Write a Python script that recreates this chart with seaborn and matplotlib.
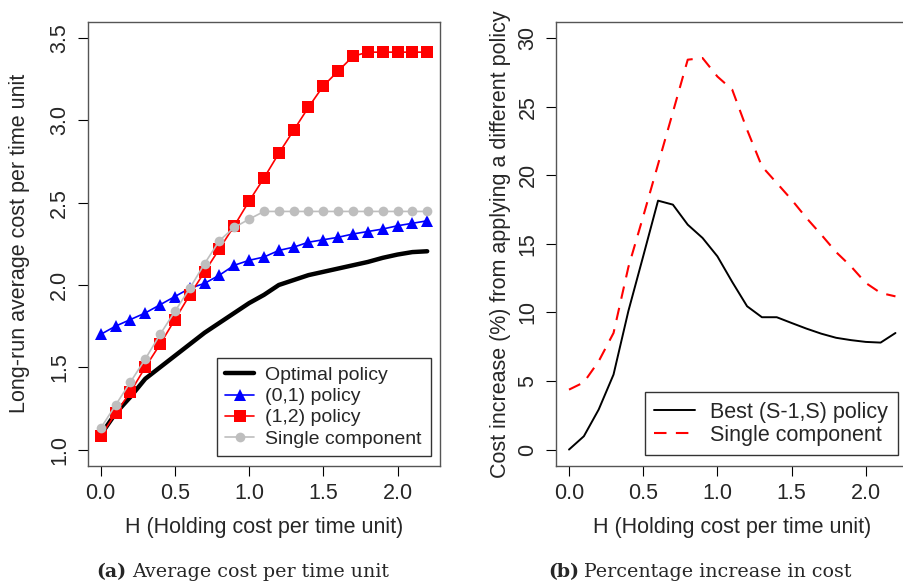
import matplotlib
matplotlib.use("Agg")
from matplotlib import pyplot as plt
import seaborn as sns
import numpy as np

# holding cost grid
H = [0.0, 0.1, 0.2, 0.3, 0.4, 0.5, 0.6, 0.7, 0.8, 0.9, 1.0, 1.1,
     1.2, 1.3, 1.4, 1.5, 1.6, 1.7, 1.8, 1.9, 2.0, 2.1, 2.2]

# (a) average cost per time unit
optimal = [1.09, 1.22, 1.32, 1.43, 1.50, 1.57, 1.64, 1.71, 1.77, 1.83, 1.89, 1.94,
           2.00, 2.03, 2.06, 2.08, 2.10, 2.12, 2.14, 2.165, 2.185, 2.20, 2.205]
policy_01 = [1.70, 1.75, 1.79, 1.83, 1.88, 1.93, 1.98, 2.01, 2.06, 2.12, 2.15, 2.17,
             2.21, 2.23, 2.26, 2.275, 2.29, 2.31, 2.325, 2.34, 2.36, 2.375, 2.39]
policy_12 = [1.08, 1.22, 1.35, 1.50, 1.64, 1.79, 1.94, 2.08, 2.22, 2.36, 2.51, 2.65,
             2.80, 2.94, 3.08, 3.21, 3.30, 3.39, 3.415, 3.415, 3.415, 3.415, 3.415]
single = [1.13, 1.27, 1.41, 1.55, 1.70, 1.84, 1.98, 2.13, 2.27, 2.35, 2.40, 2.447,
          2.447, 2.447, 2.447, 2.447, 2.447, 2.447, 2.447, 2.447, 2.447, 2.447, 2.447]

# (b) percentage increase in cost
best_s1s = [0.0, 0.97, 2.92, 5.47, 10.1, 14.1, 18.15, 17.86, 16.4, 15.43, 14.09, 12.22,
            10.45, 9.65, 9.65, 9.23, 8.82, 8.45, 8.15, 7.98, 7.85, 7.80, 8.50]
single_pct = [4.37, 4.9, 6.44, 8.5, 13.3, 17.0, 20.8, 24.6, 28.43, 28.55, 27.2, 26.24,
              23.32, 20.65, 19.44, 18.22, 16.89, 15.67, 14.4, 13.36, 12.15, 11.42, 11.17]

sns.set_style("white")
plt.rcParams["font.family"] = ["Liberation Sans", "DejaVu Sans"]
fs = 15.5

fig = plt.figure(figsize=(9.04, 5.85), dpi=100)
ax1 = fig.add_axes([0.097, 0.2034, 0.390, 0.7595])
ax2 = fig.add_axes([0.615, 0.2034, 0.390, 0.7595])

sns.lineplot(x=H, y=optimal, ax=ax1, color="black", lw=3.2, label="Optimal policy")
sns.lineplot(x=H, y=policy_01, ax=ax1, color="blue", lw=1.2, marker="^", markersize=9,
             markeredgewidth=0, label="(0,1) policy")
sns.lineplot(x=H, y=policy_12, ax=ax1, color="red", lw=1.2, marker="s", markersize=8,
             markeredgewidth=0, label="(1,2) policy")
sns.lineplot(x=H, y=single, ax=ax1, color="#BEBEBE", lw=1.2, marker="o", markersize=7,
             markeredgewidth=0, label="Single component")

sns.lineplot(x=H, y=best_s1s, ax=ax2, color="black", lw=1.4, label="Best (S-1,S) policy")
sns.lineplot(x=H, y=single_pct, ax=ax2, color="red", lw=1.5, linestyle=(0, (6, 4.5)),
             label="Single component")

ax1.set_xlim(-0.088, 2.288)
ax1.set_ylim(0.9, 3.6)
ax1.set_yticks([1.0, 1.5, 2.0, 2.5, 3.0, 3.5])
ax1.set_ylabel("Long-run average cost per time unit", fontsize=fs, labelpad=14)

ax2.set_xlim(-0.088, 2.288)
ax2.set_ylim(-1.2, 31.2)
ax2.set_yticks([0, 5, 10, 15, 20, 25, 30])
ax2.set_ylabel("Cost increase (%) from applying a different policy", fontsize=fs, labelpad=5)

for ax in (ax1, ax2):
    ax.set_xticks([0.0, 0.5, 1.0, 1.5, 2.0])
    ax.set_xticklabels(["0.0", "0.5", "1.0", "1.5", "2.0"])
    ax.set_xlabel("H (Holding cost per time unit)", fontsize=fs, labelpad=9)
    ax.tick_params(axis="both", direction="out", length=7.5, width=0.8, color="black",
                   labelsize=fs, left=True, bottom=True, pad=5)
    for lab in ax.get_yticklabels():
        lab.set_rotation(90)
        lab.set_va("center")
    for s in ax.spines.values():
        s.set_color("#555555")
        s.set_linewidth(1.0)

leg1 = ax1.legend(loc="lower right", fontsize=14, frameon=True, fancybox=False,
                  handlelength=1.45, borderpad=0.45, labelspacing=0.18, handletextpad=0.6,
                  borderaxespad=0.5)
leg1.get_frame().set_edgecolor("black")
leg1.get_frame().set_linewidth(1.0)

leg2 = ax2.legend(loc="lower right", fontsize=fs, frameon=True, fancybox=False,
                  handlelength=1.9, borderpad=0.45, labelspacing=0.08, handletextpad=0.7,
                  borderaxespad=0.5)
leg2.get_frame().set_edgecolor("black")
leg2.get_frame().set_linewidth(1.0)


def caption(x, tag, rest):
    t = fig.text(x, 0.013, tag, ha="left", fontsize=13.7, fontweight="bold",
                 family="DejaVu Serif")
    fig.canvas.draw()
    bb = t.get_window_extent()
    fig.text(bb.x1 / fig.bbox.width + 0.006, 0.013, rest, ha="left", fontsize=13.7,
             family="DejaVu Serif")


caption(0.107, "(a)", "Average cost per time unit")
caption(0.606, "(b)", "Percentage increase in cost")

plt.savefig("out.png", dpi=100)
plt.close()
